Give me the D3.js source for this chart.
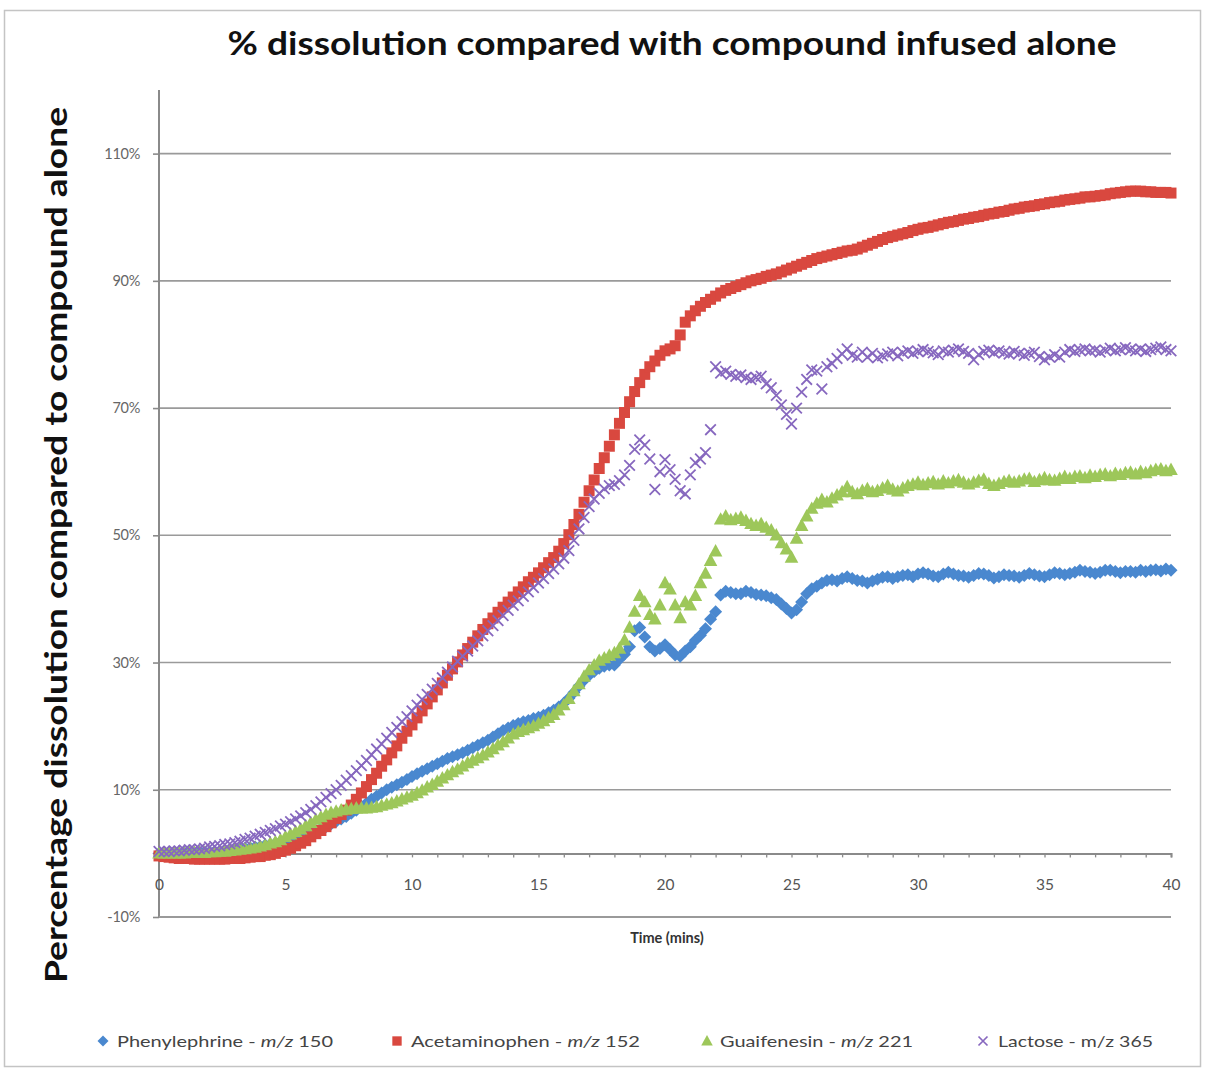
<!DOCTYPE html>
<html>
<head>
<meta charset="utf-8">
<script src="https://cdn.jsdelivr.net/npm/d3@7"></script>
<style>
  html, body { margin: 0; padding: 0; background: #fff; }
  svg { display: block; }
</style>
</head>
<body>
<svg id="chart" width="1206" height="1070"></svg>
<script>
// ---------- DATA (percent dissolution, sampled every 0.2 min from 0 to 40; one row = 1 min) ----------
const timeStepMins = 0.2;

const phenylephrine = [
  0.0, 0.0, 0.0, 0.0, 0.0,
  0.1, 0.1, 0.1, 0.2, 0.2,
  0.2, 0.3, 0.3, 0.4, 0.5,
  0.6, 0.7, 0.8, 0.9, 1.0,
  1.1, 1.3, 1.4, 1.6, 1.8,
  2.0, 2.2, 2.5, 2.8, 3.0,
  3.3, 3.6, 3.9, 4.2, 4.6,
  5.0, 5.4, 5.8, 6.3, 6.8,
  7.4, 7.9, 8.5, 9.0, 9.5,
  10.0, 10.4, 10.8, 11.2, 11.6,
  12.1, 12.5, 12.9, 13.3, 13.7,
  14.1, 14.5, 14.9, 15.2, 15.5,
  15.8, 16.2, 16.6, 17.0, 17.4,
  17.8, 18.3, 18.8, 19.3, 19.7,
  20.1, 20.4, 20.7, 20.9, 21.2,
  21.4, 21.7, 22.1, 22.5, 23.0,
  23.6, 24.4, 25.3, 26.3, 27.2,
  28.0, 28.6, 29.1, 29.4, 29.6,
  29.6, 30.5, 31.3, 32.5, 35.0,
  35.5, 34.0, 32.5, 31.8, 32.2,
  32.8, 32.0, 31.2, 31.0, 31.8,
  32.5, 33.5, 34.3, 35.3, 36.8,
  38.0, 40.6, 41.2, 41.0, 40.8,
  40.8, 41.2, 41.0, 40.7, 40.6,
  40.5, 40.2, 39.9, 39.2, 38.5,
  37.8, 38.3, 39.5, 40.8, 41.6,
  42.0, 42.5, 42.9, 43.0, 42.8,
  43.2, 43.5, 43.2, 42.9, 42.8,
  42.5, 42.8, 43.1, 43.4, 43.5,
  43.2, 43.5, 43.7, 43.8, 43.5,
  43.9, 44.1, 43.9, 43.6, 43.5,
  43.9, 44.2, 43.9, 43.7, 43.6,
  43.4, 43.7, 44.0, 43.9, 43.7,
  43.3, 43.5, 43.8, 43.7, 43.6,
  43.4, 43.7, 44.0, 43.8, 43.6,
  43.5, 43.8, 44.1, 44.0, 43.8,
  44.0, 44.2, 44.5, 44.3, 44.2,
  44.0, 44.2, 44.5, 44.5, 44.3,
  44.1, 44.3, 44.3, 44.2, 44.5,
  44.3, 44.5, 44.6, 44.4, 44.7,
  44.5
];

const acetaminophen = [
  -0.4, -0.5, -0.6, -0.7, -0.8,
  -0.8, -0.8, -0.9, -0.9, -0.9,
  -0.9, -0.9, -0.9, -0.9, -0.8,
  -0.8, -0.8, -0.7, -0.6, -0.5,
  -0.5, -0.3, -0.2, 0.0, 0.3,
  0.5, 0.8, 1.2, 1.6, 2.0,
  2.6, 3.1, 3.6, 4.2, 4.8,
  5.5, 6.1, 6.8, 7.6, 8.5,
  9.5, 10.5, 11.6, 12.6, 13.7,
  14.7, 15.8, 16.9, 18.1, 19.2,
  20.2, 21.3, 22.4, 23.5, 24.6,
  25.7, 26.8, 28.0, 29.0, 30.1,
  31.2, 32.2, 33.2, 34.2, 35.2,
  36.1, 37.0, 37.9, 38.7, 39.5,
  40.3, 41.1, 41.9, 42.7, 43.4,
  44.1, 44.9, 45.7, 46.5, 47.5,
  48.7, 50.1, 51.7, 53.3, 55.2,
  57.0, 58.7, 60.5, 62.2, 64.0,
  65.8, 67.6, 69.3, 71.0, 72.6,
  74.0, 75.3, 76.5, 77.4, 78.3,
  79.0, 79.3, 79.8, 81.5, 83.5,
  84.5, 85.3, 86.0, 86.6, 87.1,
  87.6, 88.1, 88.5, 88.8, 89.1,
  89.4, 89.7, 90.0, 90.2, 90.4,
  90.7, 90.9, 91.1, 91.4, 91.7,
  92.0, 92.3, 92.6, 92.9, 93.2,
  93.5, 93.7, 93.9, 94.1, 94.3,
  94.5, 94.7, 94.8, 95.0, 95.3,
  95.6, 95.9, 96.2, 96.5, 96.8,
  97.0, 97.2, 97.4, 97.6, 97.9,
  98.1, 98.3, 98.4, 98.6, 98.8,
  99.0, 99.2, 99.3, 99.5, 99.7,
  99.8, 100.0, 100.1, 100.3, 100.5,
  100.6, 100.8, 100.9, 101.1, 101.3,
  101.4, 101.6, 101.7, 101.8, 102.0,
  102.1, 102.3, 102.4, 102.5, 102.7,
  102.8, 102.9, 103.0, 103.2, 103.2,
  103.3, 103.4, 103.5, 103.7, 103.8,
  103.9, 104.0, 104.1, 104.1, 104.1,
  104.0, 104.0, 103.9, 103.9, 103.9,
  103.8
];

const guaifenesin = [
  0.0, 0.0, 0.0, 0.0, 0.0,
  0.0, 0.1, 0.1, 0.1, 0.1,
  0.2, 0.2, 0.3, 0.3, 0.4,
  0.5, 0.6, 0.7, 0.8, 0.9,
  1.1, 1.3, 1.6, 1.8, 2.1,
  2.6, 3.0, 3.4, 3.8, 4.3,
  4.8, 5.3, 5.7, 6.1, 6.4,
  6.6, 6.8, 6.9, 7.0, 7.1,
  7.1, 7.1, 7.2, 7.3, 7.5,
  7.7, 7.9, 8.2, 8.5, 8.8,
  9.1, 9.5, 9.9, 10.4, 10.8,
  11.3, 11.8, 12.3, 12.8, 13.2,
  13.7, 14.2, 14.6, 15.0, 15.4,
  15.9, 16.4, 17.0, 17.5, 18.1,
  18.7, 19.1, 19.4, 19.7, 20.0,
  20.4, 20.8, 21.3, 21.8, 22.5,
  23.3, 24.3, 25.5, 26.6, 27.8,
  28.8, 29.6, 30.3, 30.7, 31.1,
  31.5, 32.2, 33.5, 35.5, 38.0,
  40.5, 39.5, 37.5, 36.8, 39.0,
  42.5, 41.5, 39.0, 37.0, 39.5,
  39.0, 40.5, 42.5, 44.0, 46.0,
  47.5, 52.5, 53.0, 52.4, 52.6,
  52.8, 52.3, 51.8, 51.5, 51.8,
  51.2, 50.8, 50.0, 48.8, 47.8,
  46.5, 49.5, 51.5, 53.0, 54.2,
  55.0, 55.6, 55.2, 55.8, 56.3,
  56.8, 57.6, 56.8, 56.5, 57.0,
  57.3, 56.8, 57.0, 57.4, 57.8,
  57.2, 56.9, 57.4, 57.8, 58.0,
  58.3, 57.9, 58.2, 58.4, 58.0,
  58.5, 58.2, 58.5, 58.7, 58.3,
  58.0, 58.3, 58.6, 58.8, 58.1,
  57.8, 58.1, 58.4, 58.6, 58.3,
  58.5, 58.8, 58.9, 58.4, 58.7,
  59.0, 58.7, 58.6, 58.9, 59.2,
  58.9, 59.2, 59.3, 59.0, 59.4,
  59.2, 59.5, 59.6, 59.3, 59.7,
  59.5, 59.8, 59.9, 59.6, 60.0,
  59.8, 60.1, 60.3, 60.4, 60.1,
  60.3
];

const lactose = [
  0.3, 0.3, 0.3, 0.4, 0.4,
  0.5, 0.6, 0.6, 0.7, 0.8,
  1.0, 1.1, 1.2, 1.4, 1.5,
  1.7, 1.9, 2.2, 2.4, 2.7,
  3.0, 3.3, 3.6, 3.9, 4.3,
  4.6, 5.0, 5.4, 5.9, 6.4,
  6.9, 7.5, 8.1, 8.8, 9.4,
  10.0, 10.7, 11.5, 12.2, 13.0,
  13.8, 14.6, 15.5, 16.4, 17.2,
  18.1, 19.0, 19.8, 20.7, 21.5,
  22.4, 23.3, 24.2, 25.0, 25.8,
  26.7, 27.6, 28.5, 29.3, 30.2,
  31.0, 31.8, 32.6, 33.4, 34.2,
  35.0, 35.8, 36.6, 37.4, 38.2,
  39.0, 39.7, 40.4, 41.1, 41.8,
  42.5, 43.2, 44.0, 44.7, 45.5,
  46.4, 47.6, 49.2, 51.0, 52.8,
  54.5, 55.7, 56.6, 57.3, 57.8,
  58.0, 58.6, 59.5, 61.0, 63.5,
  65.0, 64.2, 62.0, 57.2, 60.0,
  61.9, 60.3, 58.8, 57.0, 56.5,
  59.5, 61.4, 62.0, 63.0, 66.6,
  76.5, 75.5, 75.8, 75.3, 75.0,
  75.2, 74.8, 74.5, 74.8, 75.0,
  73.8, 73.2, 72.0, 70.5, 69.0,
  67.5, 70.0, 72.5, 74.5, 76.0,
  75.8, 73.0, 76.5, 77.0, 77.8,
  78.5, 79.3, 78.3, 78.0, 78.8,
  78.0, 78.6, 77.9, 78.2, 78.5,
  78.8, 78.2, 78.7, 79.0, 78.6,
  78.9, 79.2, 78.9, 78.7, 78.4,
  79.0, 78.8, 79.1, 79.3, 78.9,
  78.6, 77.6, 78.4, 78.9, 79.1,
  78.7, 79.0, 78.7, 78.5, 78.9,
  78.6, 78.3, 78.6, 78.8, 78.1,
  77.6, 78.0, 78.4, 78.0, 78.8,
  79.2, 78.9, 79.1, 79.3, 79.0,
  79.1, 78.8, 79.1, 79.4, 79.0,
  79.2, 79.5, 79.2, 79.0, 79.3,
  78.9, 79.2, 79.4, 79.6, 79.2,
  79.0
];

const seriesNames = ["Phenylephrine", "Acetaminophen", "Guaifenesin", "Lactose"];
const seriesMz = ["150", "152", "221", "365"];
const seriesMzItalic = [true, true, true, false];

const xTickValues = [0, 5, 10, 15, 20, 25, 30, 35, 40];
const yTickValues = [-10, 10, 30, 50, 70, 90, 110];
const yTickLabels = ["-10%", "10%", "30%", "50%", "70%", "90%", "110%"];

const titleText = "% dissolution compared with compound infused alone";
const yTitleText = "Percentage dissolution compared to compound alone";
const xTitleText = "Time (mins)";

// ---------- STYLE ----------
const colors = ["#4a88cf", "#d9483f", "#9dc75a", "#8768bf"];
const font = "Lato, 'Open Sans', 'DejaVu Sans', sans-serif";

const svg = d3.select("#chart");

svg.append("rect").attr("x", 4.5).attr("y", 10.5).attr("width", 1196).attr("height", 1056)
  .attr("fill", "#fff").attr("stroke", "#c4c4c4").attr("stroke-width", 1.5);

const x = d3.scaleLinear().domain([0, 40]).range([159, 1171]);
const y = d3.scaleLinear().domain([-10, 120]).range([917, 90]);

// gridlines
const grid = svg.append("g");
grid.selectAll("line").data(yTickValues.filter(v => v !== -10)).join("line")
  .attr("x1", x(0)).attr("x2", x(40))
  .attr("y1", d => y(d)).attr("y2", d => y(d))
  .attr("stroke", "#9a9a9a").attr("stroke-width", 1.6);

// y axis
const yAxis = d3.axisLeft(y).tickValues(yTickValues)
  .tickFormat((d, i) => yTickLabels[i]).tickSize(6).tickPadding(13);
const gy = svg.append("g").attr("transform", `translate(${x(0)},0)`).call(yAxis);
gy.select(".domain").remove();
gy.selectAll(".tick line").attr("stroke", "#8a8a8a").attr("stroke-width", 1.6);
gy.selectAll(".tick text").attr("font-family", font).attr("font-size", 14.5)
  .attr("fill", "#666").attr("letter-spacing", "-0.3");
svg.append("line").attr("x1", x(0)).attr("x2", x(0)).attr("y1", y(120)).attr("y2", y(-10))
  .attr("stroke", "#8a8a8a").attr("stroke-width", 2);

// bottom line at -10%
svg.append("line").attr("x1", x(0)).attr("x2", x(40)).attr("y1", y(-10)).attr("y2", y(-10))
  .attr("stroke", "#9a9a9a").attr("stroke-width", 2);

// x axis at y=0
const xAxis = d3.axisBottom(x).tickValues(d3.range(0, 41, 1))
  .tickFormat(d => xTickValues.includes(d) ? d : "").tickSize(4).tickPadding(22);
const gx = svg.append("g").attr("transform", `translate(0,${y(0)})`).call(xAxis);
gx.select(".domain").attr("stroke", "#8a8a8a").attr("stroke-width", 2);
gx.selectAll(".tick line").attr("stroke", "#8a8a8a").attr("stroke-width", 1.3);
gx.selectAll(".tick text").attr("font-family", font).attr("font-size", 15.5).attr("fill", "#555");

// markers
const markerPaths = [
  "M0,-6.5L6.5,0L0,6.5L-6.5,0Z",
  "M-5.5,-5.5H5.5V5.5H-5.5Z",
  "M0,-7.2L6.8,5.2H-6.8Z",
  "M-5.3,-5.3L5.3,5.3M-5.3,5.3L5.3,-5.3"
];
const allSeries = [phenylephrine, acetaminophen, guaifenesin, lactose];

allSeries.forEach((vals, si) => {
  const g = svg.append("g");
  const pts = vals.map((v, i) => ({ t: i * timeStepMins, v }));
  const sel = g.selectAll("path").data(pts).join("path")
    .attr("d", markerPaths[si])
    .attr("transform", d => `translate(${x(d.t)},${y(d.v)})`);
  if (si === 3) {
    sel.attr("fill", "none").attr("stroke", colors[si]).attr("stroke-width", 1.8);
  } else {
    sel.attr("fill", colors[si]).attr("stroke", "none");
  }
});

// title
svg.append("text").attr("x", 672).attr("y", 55).attr("text-anchor", "middle")
  .attr("font-family", font).attr("font-weight", "bold").attr("font-size", 33)
  .attr("fill", "#111").attr("textLength", 889).attr("lengthAdjust", "spacingAndGlyphs")
  .text(titleText);

// y title
svg.append("text").attr("transform", "translate(67,545) rotate(-90)")
  .attr("text-anchor", "middle").attr("font-family", font).attr("font-weight", "bold")
  .attr("font-size", 30).attr("fill", "#111")
  .attr("textLength", 876).attr("lengthAdjust", "spacingAndGlyphs")
  .text(yTitleText);

// x title
svg.append("text").attr("x", 667).attr("y", 943).attr("text-anchor", "middle")
  .attr("font-family", font).attr("font-weight", "bold").attr("font-size", 14.5)
  .attr("fill", "#333").text(xTitleText);

// legend
const legendMarkerX = [103, 397, 707, 983];
const legendTextX = [117, 411, 720, 998];
const legendTextW = [216, 229, 193, 155];
const legY = 1041;
seriesNames.forEach((name, i) => {
  const m = svg.append("path").attr("d", markerPaths[i])
    .attr("transform", `translate(${legendMarkerX[i]},${legY}) scale(0.85)`);
  if (i === 3) m.attr("fill", "none").attr("stroke", colors[i]).attr("stroke-width", 2);
  else m.attr("fill", colors[i]);
  const t = svg.append("text").attr("x", legendTextX[i]).attr("y", legY + 6)
    .attr("font-family", font).attr("font-size", 16).attr("fill", "#444")
    .attr("textLength", legendTextW[i]).attr("lengthAdjust", "spacingAndGlyphs");
  t.append("tspan").text(name + " - ");
  t.append("tspan").attr("font-style", seriesMzItalic[i] ? "italic" : "normal").text("m/z");
  t.append("tspan").text(" " + seriesMz[i]);
});
</script>
</body>
</html>
